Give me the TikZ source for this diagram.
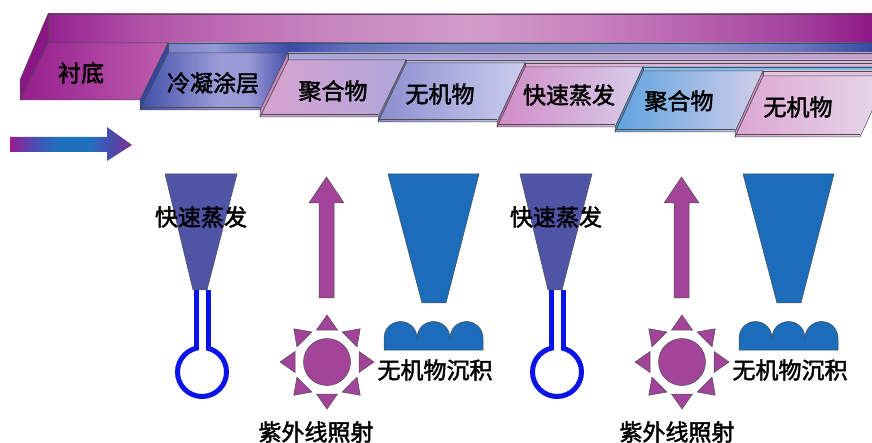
\documentclass[tikz,border=0pt]{standalone}
\usepackage{fontspec}
\newfontfamily\cjk[FakeBold=2]{Noto Sans CJK SC}

% palette
\definecolor{uvpurple}{HTML}{A3449B}
\definecolor{evapblue}{HTML}{5054A6}
\definecolor{depblue}{HTML}{1B6CBA}
\definecolor{tubeblue}{HTML}{0A14E6}
% substrate
\definecolor{subF1}{HTML}{951D8D}
\definecolor{subF2}{HTML}{BE5EAE}
\definecolor{subS}{HTML}{8A1685}
% condensed coating
\definecolor{coatSide}{HTML}{3545A0}
% polymer 1
\definecolor{polA}{HTML}{D7A2D0}
\definecolor{polB}{HTML}{B0A6DA}
\definecolor{polS1}{HTML}{A8A6DA}
\definecolor{polS2}{HTML}{C7A0CC}
\definecolor{polSide}{HTML}{C888C0}
% inorganic 1
\definecolor{inoA}{HTML}{8C8ED0}
\definecolor{inoB}{HTML}{CBCDEE}
\definecolor{inoS1}{HTML}{B8B8E4}
\definecolor{inoS2}{HTML}{D0C0E2}
\definecolor{inoSide}{HTML}{7478C0}
% flash evaporated
\definecolor{evA}{HTML}{D18CC6}
\definecolor{evB}{HTML}{D7CDEA}
\definecolor{evS1}{HTML}{DDB0D6}
\definecolor{evS2}{HTML}{E2B5DC}
\definecolor{evSide}{HTML}{C070B8}
% polymer 2
\definecolor{pbA}{HTML}{5EA3DE}
\definecolor{pbB}{HTML}{D2CEEA}
\definecolor{pbS1}{HTML}{8CBDE9}
\definecolor{pbS2}{HTML}{7CB3E6}
\definecolor{pbSide}{HTML}{4C92D4}
% inorganic 2
\definecolor{ibA}{HTML}{DCA6D2}
\definecolor{ibB}{HTML}{E8D8EC}
\definecolor{ibS1}{HTML}{E3C8E2}
\definecolor{ibS2}{HTML}{E0C0DE}
\definecolor{ibSide}{HTML}{CC90C4}

% multi-stop shadings (25bp..75bp spans the filled path)
\pgfdeclarehorizontalshading{substrip}{100bp}{
  rgb(0bp)=(0.584,0.125,0.565); rgb(25bp)=(0.584,0.125,0.565);
  rgb(30.4bp)=(0.690,0.314,0.659); rgb(36.3bp)=(0.753,0.439,0.710);
  rgb(42.2bp)=(0.784,0.533,0.753); rgb(49.8bp)=(0.824,0.612,0.792);
  rgb(57.4bp)=(0.784,0.502,0.745); rgb(63.3bp)=(0.710,0.376,0.675);
  rgb(69.1bp)=(0.635,0.251,0.620); rgb(73.4bp)=(0.557,0.086,0.525);
  rgb(100bp)=(0.557,0.086,0.525)}
\pgfdeclarehorizontalshading{coatstrip}{100bp}{
  rgb(0bp)=(0.478,0.502,0.784); rgb(25bp)=(0.478,0.502,0.784);
  rgb(28.2bp)=(0.580,0.604,0.839); rgb(33.3bp)=(0.235,0.290,0.659);
  rgb(37.4bp)=(0.392,0.447,0.729); rgb(43.6bp)=(0.502,0.533,0.784);
  rgb(61.3bp)=(0.533,0.565,0.800); rgb(68.2bp)=(0.416,0.455,0.737);
  rgb(73bp)=(0.227,0.290,0.627); rgb(100bp)=(0.227,0.290,0.627)}
\pgfdeclarehorizontalshading{coatface}{100bp}{
  rgb(0bp)=(0.247,0.306,0.659); rgb(25bp)=(0.247,0.306,0.659);
  rgb(41.7bp)=(0.478,0.502,0.784); rgb(51.9bp)=(0.612,0.612,0.847);
  rgb(62bp)=(0.596,0.596,0.839); rgb(70.6bp)=(0.376,0.408,0.722);
  rgb(75bp)=(0.251,0.314,0.659); rgb(100bp)=(0.251,0.314,0.659)}
\pgfdeclarehorizontalshading{webarrow}{100bp}{
  rgb(0bp)=(0.604,0.102,0.541); rgb(25bp)=(0.604,0.102,0.541);
  rgb(31.1bp)=(0.416,0.227,0.659); rgb(39.3bp)=(0.188,0.376,0.722);
  rgb(45.5bp)=(0.125,0.439,0.753); rgb(57.8bp)=(0.125,0.439,0.753);
  rgb(61.9bp)=(0.227,0.353,0.722); rgb(68bp)=(0.314,0.282,0.659);
  rgb(75bp)=(0.541,0.165,0.565); rgb(100bp)=(0.541,0.165,0.565)}

% one deposited layer: back strip, face, left side sliver
% #1 x of back-left corner, #2 top y, #3 thickness, #4 face bottom y,
% #5 face width, #6 face shading, #7 strip shading, #8 side colour
\newcommand{\stratum}[8]{%
  \pgfmathsetmacro\ft{#2+#3}%
  \pgfmathsetmacro\xl{#1-28}%
  \pgfmathsetmacro\xr{#1+#5}%
  \pgfmathsetmacro\xrl{#1+#5-28}%
  \pgfmathsetmacro\fb{#4-#3}%
  \pgfmathsetmacro\fe{#4-2.5}%
  \shadedraw[layeredge,#7] (#1,#2) rectangle (900,\ft);
  \shadedraw[layeredge,#6] (#1,\ft) -- (\xr,\ft) -- (\xrl,#4) -- (\xl,#4) -- cycle;
  \draw[layeredge] (\xl,\fe) -- (\xrl,\fe);
  \filldraw[layeredge,fill=#8] (#1,#2) -- (#1,\ft) -- (\xl,#4) -- (\xl,\fb) -- cycle;
}

\begin{document}
\begin{tikzpicture}[x=1pt,y=-1pt,
  layeredge/.style={draw=black!70, line width=0.5pt},
  lbl/.style={font=\cjk\fontsize{23}{23}\selectfont, inner sep=0pt, text=black},
  outline/.style={draw=black!70, line width=0.5pt},
  uv/.style={outline, fill=uvpurple},
  tube/.style={draw=tubeblue, line width=5pt},
]
\useasboundingbox (0,0) rectangle (872,443);

\begin{scope}
\clip (0,0) rectangle (872,443);

% substrate slab
\shadedraw[layeredge, shading=substrip] (48,14) rectangle (900,43);
\shadedraw[layeredge, left color=subF1, right color=subF2]
  (48,43) -- (168,43) -- (140,100) -- (20,100) -- cycle;
\filldraw[layeredge, fill=subS] (48,14) -- (48,43) -- (20,100) -- (20,80) -- cycle;

% deposited stack
\stratum{168}{43}{10}{110}{120}
  {shading=coatface}
  {shading=coatstrip}{coatSide}
\stratum{288}{53}{7}{117}{118}
  {left color=polA, right color=polB}
  {left color=polS1, right color=polS2}{polSide}
\stratum{406}{60}{3}{122}{119}
  {left color=inoA, right color=inoB}
  {left color=inoS1, right color=inoS2}{inoSide}
\stratum{525}{63}{4}{127}{118}
  {left color=evA, right color=evB}
  {left color=evS1, right color=evS2}{evSide}
\stratum{643}{67}{4}{132}{120}
  {left color=pbA, right color=pbB}
  {left color=pbS1, right color=pbS2}{pbSide}
\stratum{763}{71}{5}{137}{125}
  {left color=ibA, right color=ibB}
  {left color=ibS1, right color=ibS2}{ibSide}
\end{scope}

% layer labels
\node[lbl] (tsub)  at (81,73)  {衬底};
\node[lbl] (tcoat) at (213,83) {冷凝涂层};
\node[lbl] (tpol1) at (333,91) {聚合物};
\node[lbl] (tino1) at (440,94) {无机物};
\node[lbl] (tev)   at (569,95) {快速蒸发};
\node[lbl] (tpol2) at (679,101) {聚合物};
\node[lbl] (tino2) at (798,107) {无机物};

% travel direction of the web
\shade[shading=webarrow]
  (10,137) -- (107,137) -- (107,127) -- (132,145) -- (107,161) -- (107,152) -- (10,152) -- cycle;

% two identical deposition stations
\foreach \o/\n/\u in {0/a/0, 355/b/6} {
  \begin{scope}[shift={(\o,0)}]
    % flash evaporator: nozzle plume and flask
    \draw[tube, fill=white] (202,372) circle[radius=24.5pt];
    \fill[white] (198.5,290) rectangle (205.5,352);
    \draw[tube] (196,290) -- (196,349.5);
    \draw[tube] (208,290) -- (208,349.5);
    \filldraw[outline, fill=evapblue] (165,174) -- (237,174) -- (207,290) -- (193,290) -- cycle;
    % UV lamp
    \filldraw[uv] (319,298) -- (319,203) -- (309,203) -- (326.5,177) -- (344,203) -- (334,203) -- (334,298) -- cycle;
    \filldraw[uv] (327,362) circle[radius=23.5pt];
    \foreach \a in {0,45,...,315}
      \filldraw[uv, shift={(327,362)}, rotate=\a] (47pt,0pt) -- (32pt,10.5pt) -- (32pt,-10.5pt) -- cycle;
    % inorganic sputter source
    \filldraw[outline, fill=depblue] (388,174) -- (479,174) -- (446,303) -- (422,303) -- cycle;
    \filldraw[outline, fill=depblue] (384,350) -- (384,338)
      arc[start angle=180, end angle=0, radius=16.5pt]
      arc[start angle=180, end angle=0, radius=16.5pt]
      arc[start angle=180, end angle=0, radius=16.5pt]
      -- (483,350) -- cycle;
  \end{scope}
  \node[lbl] (fe\n) at (201+\o,217) {快速蒸发};
  \node[lbl] (ip\n) at (435+\o,370) {无机物沉积};
  \node[lbl] (uv\n) at (316+\o+\u,432) {紫外线照射};
}
\end{tikzpicture}
\end{document}
